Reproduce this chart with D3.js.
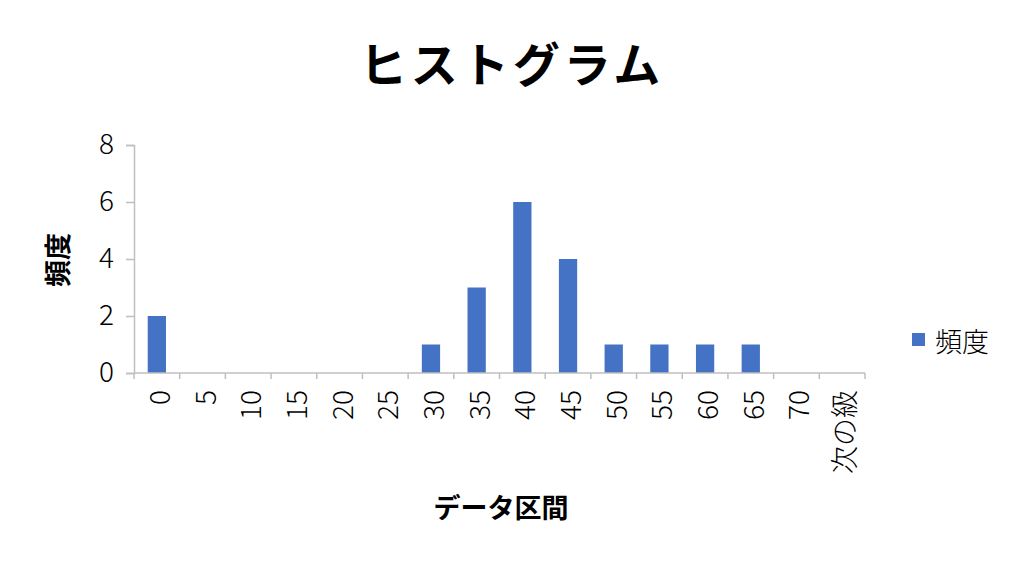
<!DOCTYPE html>
<html><head><meta charset="utf-8">
<script src="https://cdn.jsdelivr.net/npm/d3@7"></script>
<style>body{margin:0;background:#fff;} text{font-family:"Noto Sans CJK JP","Noto Sans",sans-serif;}</style>
</head><body>
<svg id="c" width="1024" height="571"></svg>
<script>
const categories = ["0","5","10","15","20","25","30","35","40","45","50","55","60","65","70","次の級"];
const frequency = [2,0,0,0,0,0,1,3,6,4,1,1,1,1,0,0];
const yTicks = [0,2,4,6,8];
const title = "ヒストグラム";
const xTitle = "データ区間";
const yTitle = "頻度";
const seriesName = "頻度";

const svg = d3.select("#c");
const m = {left:134, right:1024-865, top:145, bottom:571-373};
const W = 1024, H = 571;
const x = d3.scaleBand().domain(categories).range([m.left, W-m.right]).paddingInner(0.6).paddingOuter(0.3);
const xt = d3.scaleBand().domain(categories).range([m.left, W-m.right]);
const y = d3.scaleLinear().domain([0,8]).range([H-m.bottom, m.top]);
const axisColor = "#bfbfbf";

// y axis
const ya = svg.append("g").attr("transform",`translate(${m.left},0)`)
  .call(d3.axisLeft(y).tickValues(yTicks).tickSize(8).tickPadding(12));
ya.select(".domain").attr("stroke",axisColor).attr("stroke-width",1.5);
ya.selectAll(".tick line").attr("stroke",axisColor).attr("stroke-width",1.5);
ya.selectAll(".tick text").attr("font-size",28).attr("font-weight",300).attr("fill","#000")
  .style("font-family","'Noto Sans CJK JP'");

// bars
svg.append("g").selectAll("rect").data(frequency).join("rect")
  .attr("x",(d,i)=>x(categories[i]))
  .attr("width",x.bandwidth())
  .attr("y",d=>y(d))
  .attr("height",d=>y(0)-y(d))
  .attr("fill","#4472c4");

// x axis
const xa = svg.append("g").attr("transform",`translate(0,${y(0)})`);
xa.append("line").attr("x1",m.left).attr("x2",W-m.right).attr("stroke",axisColor).attr("stroke-width",1.5);
const edges = categories.map(c=>xt(c)).concat([W-m.right]);
xa.selectAll("line.tk").data(edges).join("line").attr("class","tk")
  .attr("x1",d=>d).attr("x2",d=>d).attr("y1",0).attr("y2",6)
  .attr("stroke",axisColor).attr("stroke-width",1.5);
xa.selectAll("text.lb").data(categories).join("text").attr("class","lb")
  .attr("transform",d=>`translate(${xt(d)+xt.bandwidth()/2+1},17) rotate(-90)`)
  .attr("text-anchor","end").attr("dominant-baseline","central")
  .attr("font-size",28).attr("font-weight",300).attr("fill","#000").text(d=>d);

// titles
svg.append("text").attr("x",512).attr("y",82).attr("text-anchor","middle")
  .attr("font-size",47).attr("font-weight","bold").attr("letter-spacing",4).text(title);
svg.append("text").attr("x",501).attr("y",518).attr("text-anchor","middle")
  .attr("font-size",27).attr("font-weight","bold").text(xTitle);
svg.append("text").attr("transform","translate(68,260) rotate(-90)").attr("text-anchor","middle")
  .attr("font-size",27).attr("font-weight","bold").text(yTitle);

// legend
const lg = svg.append("g").attr("transform","translate(912,333)");
lg.append("rect").attr("width",13).attr("height",13).attr("fill","#4472c4");
lg.append("text").attr("x",23).attr("y",7).attr("dominant-baseline","central").attr("font-size",27).attr("font-weight",300).text(seriesName);
</script>
</body></html>
